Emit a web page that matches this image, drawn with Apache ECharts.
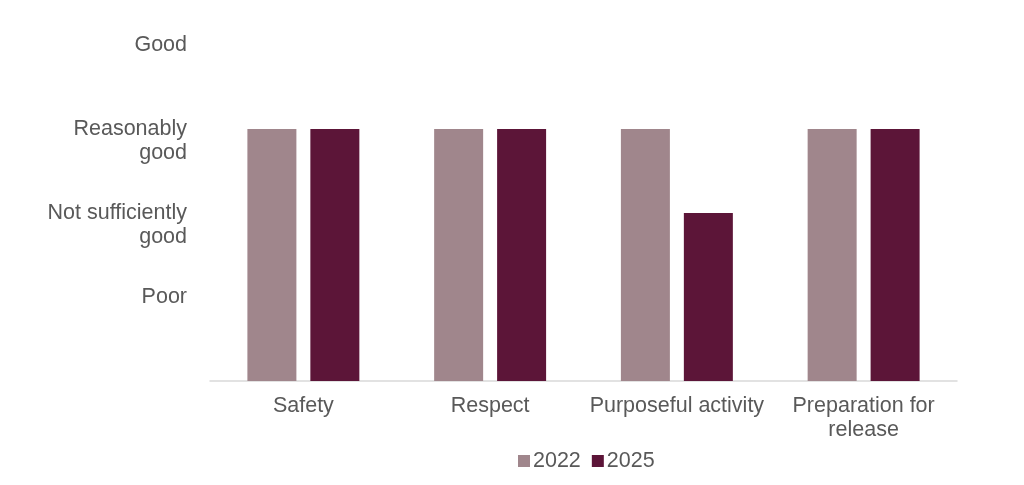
<!DOCTYPE html>
<html><head><meta charset="utf-8">
<script src="https://cdn.jsdelivr.net/npm/echarts@6/dist/echarts.min.js"></script>
<style>html,body{margin:0;padding:0;background:#fff}#c{width:1024px;height:485px}</style>
</head><body><div id="c"></div>
<script>
const categories = ['Safety', 'Respect', 'Purposeful activity', 'Preparation for\nrelease'];
const seriesNames = ['2022', '2025'];
const values2022 = [3, 3, 3, 3];
const values2025 = [3, 3, 2, 3];
const ratingLabels = ['', 'Poor', 'Not sufficiently\ngood', 'Reasonably\ngood', 'Good'];

const chart = echarts.init(document.getElementById('c'));
const font = 'Liberation Sans, Arial, sans-serif';
chart.setOption({
  animation: false,
  grid: { left: 210, right: 67, top: 45, bottom: 104 },
  legend: {
    data: seriesNames, left: 513, top: 445, icon: 'rect', itemWidth: 12, itemHeight: 12,
    itemGap: 11, itemStyle: { borderWidth: 0 },
    textStyle: { fontFamily: font, fontSize: 21.5, color: '#595959', padding: [0, 0, 0, -2] }
  },
  xAxis: {
    type: 'category', data: categories,
    axisLine: { lineStyle: { color: '#d9d9d9', width: 1.5 } },
    axisTick: { show: false },
    axisLabel: { fontFamily: font, fontSize: 21.5, color: '#595959', lineHeight: 24, margin: 13, interval: 0 }
  },
  yAxis: {
    type: 'value', min: 0, max: 4, interval: 1,
    splitLine: { show: false }, axisLine: { show: false }, axisTick: { show: false },
    axisLabel: {
      fontFamily: font, fontSize: 21.5, color: '#595959', lineHeight: 24, margin: 23, align: 'right',
      formatter: function (v) {
        const s = ratingLabels[Math.round(v)] || '';
        return s.indexOf('\n') >= 0 ? ' \n' + s : s;
      }
    }
  },
  series: [
    { name: seriesNames[0], type: 'bar', data: values2022, barWidth: 49, barGap: '28.5%', itemStyle: { color: '#a0868c' } },
    { name: seriesNames[1], type: 'bar', data: values2025, barWidth: 49, itemStyle: { color: '#5c1538' } }
  ]
});
</script></body></html>
